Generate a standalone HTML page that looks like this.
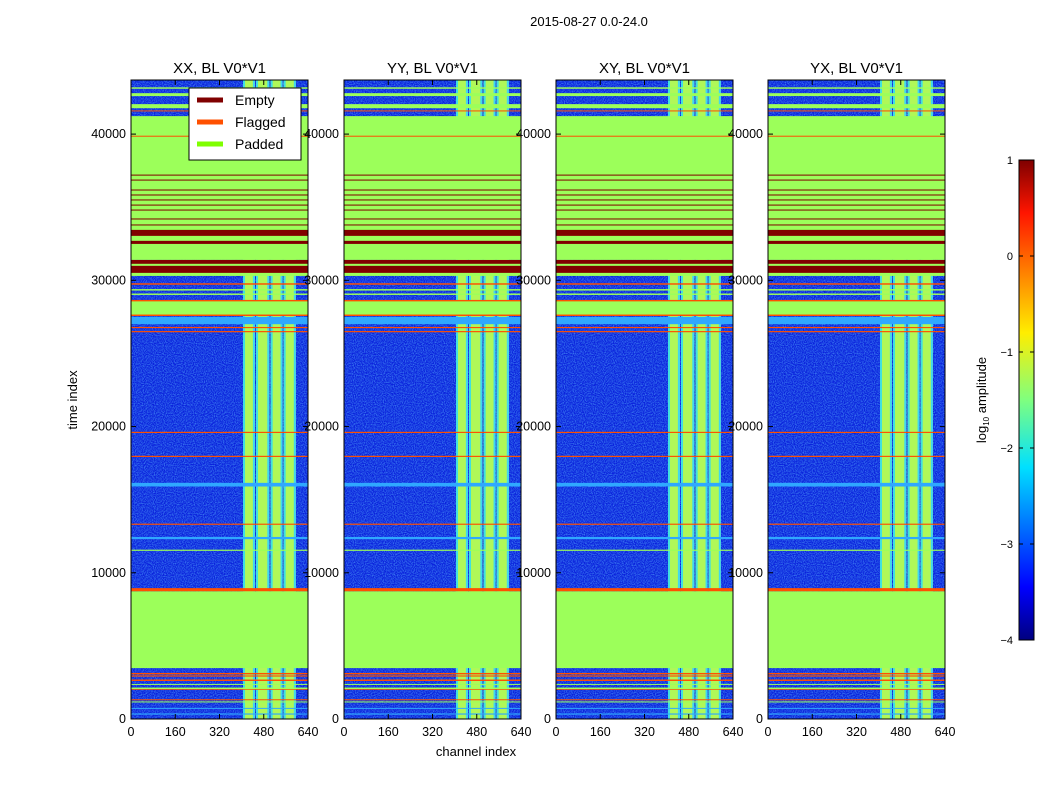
<!DOCTYPE html>
<html><head><meta charset="utf-8"><style>
body{margin:0;background:#fff;width:1050px;height:800px;overflow:hidden}
svg text{font-family:"Liberation Sans","DejaVu Sans",sans-serif}
</style></head><body>
<svg id="chart" width="1050" height="800" xmlns="http://www.w3.org/2000/svg">
<defs>
<linearGradient id="jet" x1="0" y1="1" x2="0" y2="0">
<stop offset="0" stop-color="#00007f"/><stop offset="0.11" stop-color="#0000ff"/>
<stop offset="0.36" stop-color="#00e0ff"/><stop offset="0.5" stop-color="#7fff7f"/>
<stop offset="0.64" stop-color="#ffee00"/><stop offset="0.89" stop-color="#ff1500"/>
<stop offset="1" stop-color="#7f0000"/></linearGradient>
<filter id="noise" x="0" y="0" width="100%" height="100%"><feTurbulence type="fractalNoise" baseFrequency="0.9" numOctaves="1" seed="3"/><feColorMatrix values="0 0 0 0 0.1  0 0 0 0 0.45  0 0 0 0 1  0 0 0 1.4 -0.5"/></filter>
</defs>
<text x="589" y="26" font-size="13" text-anchor="middle">2015-08-27 0.0-24.0</text>
<text x="476" y="756" font-size="13" text-anchor="middle">channel index</text>
<text transform="translate(77,400) rotate(-90)" font-size="13" text-anchor="middle">time index</text>
<g id="panels"></g>
<g>
<rect x="1019" y="160" width="15" height="480" fill="url(#jet)" stroke="#000" stroke-width="1"/>
<g id="cbticks"></g>
<text transform="translate(986,400) rotate(-90)" font-size="13" text-anchor="middle">log<tspan font-size="8" dy="3">10</tspan><tspan dy="-3"> amplitude</tspan></text>
</g>
</svg>
<script>
const panelTitles=["XX, BL V0*V1","YY, BL V0*V1","XY, BL V0*V1","YX, BL V0*V1"];
const panelLefts=[131,344,556,768];
const yTicks=[0,10000,20000,30000,40000];
const xTicks=[0,160,320,480,640];
const cbTicks=[1,0,-1,-2,-3,-4];
// bright channel blocks [c0,c1]
const brightBlocks=[[405,448],[452,500],[505,548],[552,596]];
// bands: [t0,t1,type]
const bands=[
[3480,8737,"P"],[8737,8950,"F"],
[300,380,"L"],[700,760,"L"],[1300,1350,"F"],[2000,2100,"F"],[2330,2400,"P"],[2050,2150,"P"],[2600,2700,"F"],[2900,2980,"F"],[3050,3150,"F"],[1150,1200,"P"],
[11500,11580,"P"],[12300,12450,"L"],[13280,13360,"F"],[15900,16150,"L"],[17920,18000,"F"],[19560,19640,"F"],[26450,26530,"F"],[26730,26810,"F"],[27000,27500,"L"],
[27580,28600,"P"],[27560,27660,"F"],[28560,28660,"F"],[29000,29100,"P"],[29300,29400,"P"],[29700,29800,"F"],
[30300,31400,"P"],[30510,30990,"E"],[31130,31400,"E"],
[31400,41230,"P"],[32490,32700,"E"],[33040,33450,"E"],
[33760,33820,"E"],[34170,34230,"E"],[34780,34840,"E"],[35120,35180,"E"],[35470,35530,"E"],[35810,35870,"E"],[36150,36210,"E"],[36830,36890,"E"],[37170,37230,"E"],
[39830,39890,"F"],
[41550,41620,"F"],[41770,42050,"P"],[42600,42800,"P"],[43100,43200,"P"]
];
const colors={P:"#9cff5a",E:"#800000",F:"#ff5000",L:"#2fa8ff"};
const T0=0,T1=43700,Y0=719,Y1=80,W=177;
const ty=t=>Y0-(t-T0)/(T1-T0)*(Y0-Y1);
const NS="http://www.w3.org/2000/svg";
function mk(tag,attrs,parent){const e=document.createElementNS(NS,tag);for(const k in attrs)e.setAttribute(k,attrs[k]);parent.appendChild(e);return e;}
const root=document.getElementById("panels");
panelLefts.forEach((L,i)=>{
  const cx=c=>L+c/640*W;
  const g=mk("g",{},root);
  
  
  mk("rect",{x:L,y:Y1,width:W,height:Y0-Y1,fill:"#0a22dc"},g);
  mk("rect",{x:L,y:Y1,width:W,height:Y0-Y1,filter:"url(#noise)"},g);
  brightBlocks.forEach(b=>{
    const r=mk("rect",{x:cx(b[0]),y:Y1,width:cx(b[1])-cx(b[0]),height:Y0-Y1,fill:"#b0f858"},g);
    
    
    mk("rect",{x:cx(b[0]),y:Y1,width:2,height:Y0-Y1,fill:"#40e0e0"},g);
    mk("rect",{x:cx(b[1])-2,y:Y1,width:2,height:Y0-Y1,fill:"#40d8f0"},g);
  });
  bands.forEach(b=>{
    const y1=ty(b[1]),y0=ty(b[0]);
    const r=mk("rect",{x:L,y:y1,width:W,height:Math.max(1,y0-y1),fill:colors[b[2]]},g);
    
    
  });
  mk("rect",{x:L,y:Y1,width:W,height:Y0-Y1,fill:"none",stroke:"#000","stroke-width":1},g);
  const t=mk("text",{x:L+W/2,y:73,"font-size":15,"text-anchor":"middle"},g);t.textContent=panelTitles[i];
  
  
  yTicks.forEach(v=>{const y=ty(v);
    mk("line",{x1:L,x2:L+5,y1:y,y2:y,stroke:"#000"},g);mk("line",{x1:L+W-5,x2:L+W,y1:y,y2:y,stroke:"#000"},g);
    const tx=mk("text",{x:L-5,y:y+4,"font-size":12.5,"text-anchor":"end"},g);tx.textContent=v;
    
    });
  xTicks.forEach(v=>{const x=cx(v);
    mk("line",{x1:x,x2:x,y1:Y0,y2:Y0-5,stroke:"#000"},g);mk("line",{x1:x,x2:x,y1:Y1,y2:Y1+5,stroke:"#000"},g);
    const tx=mk("text",{x:x,y:736,"font-size":12.5,"text-anchor":"middle"},g);tx.textContent=v;
    
    });
});
// legend
const lg=mk("g",{},root);


mk("rect",{x:189,y:88,width:112,height:72,fill:"#fff",stroke:"#000"},lg);
[["Empty","#800000"],["Flagged","#ff5000"],["Padded","#7fff00"]].forEach((e,k)=>{
  const y=100+k*22;
  const ln=mk("line",{x1:197,x2:223,y1:y,y2:y,stroke:e[1],"stroke-width":5},lg);
  
  
  const t=mk("text",{x:235,y:y+5,"font-size":14},lg);t.textContent=e[0];
  
  
});
const cb=document.getElementById("cbticks");
cbTicks.forEach(v=>{const y=160+(1-v)/5*480;
  mk("line",{x1:1019,x2:1023,y1:y,y2:y,stroke:"#000"},cb);mk("line",{x1:1030,x2:1034,y1:y,y2:y,stroke:"#000"},cb);
  const t=mk("text",{x:1013,y:y+4,"font-size":11,"text-anchor":"end"},cb);t.textContent=v<0?"\u2212"+(-v):v;
  
  });
</script>
</body></html>
